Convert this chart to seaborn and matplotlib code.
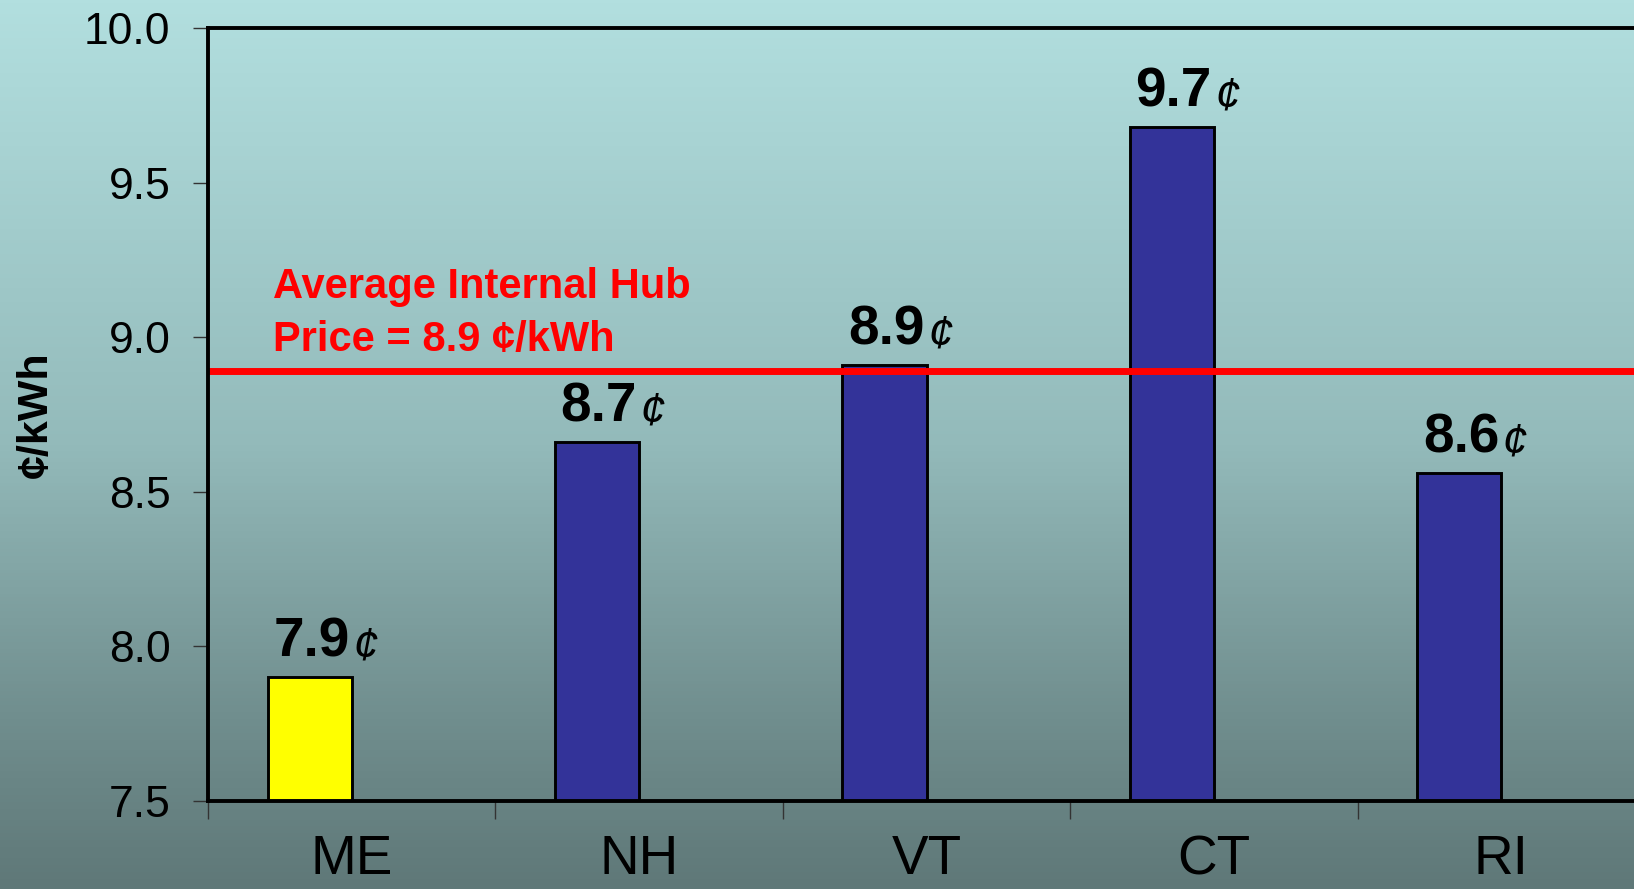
import numpy as np
import pandas as pd
import matplotlib
matplotlib.use("Agg")
import matplotlib.pyplot as plt
from matplotlib.colors import LinearSegmentedColormap
import seaborn as sns

# Data
states = ["ME", "NH", "VT", "CT", "RI"]
zone_price = [7.90, 8.66, 8.91, 9.68, 8.56]          # cents per kWh
bar_colors = ["#FFFF00", "#333399", "#333399", "#333399", "#333399"]
hub_price = 8.89
hub_text = "Average Internal Hub\nPrice = 8.9 \u00a2/kWh"
y_ticks = [7.5, 8.0, 8.5, 9.0, 9.5, 10.0]
series_levels = ["Zone", "Hub"]

sns.set_theme(style="white")
plt.rcParams["font.family"] = ["Liberation Sans", "DejaVu Sans"]

df = pd.DataFrame({"state": states, "price": zone_price, "series": series_levels[0]})

W, H, DPI = 1634, 889, 100
fig = plt.figure(figsize=(W / DPI, H / DPI), dpi=DPI)
fig.patch.set_facecolor("#5F7878")

# Vertical background gradient
bg = fig.add_axes([0, 0, 1, 1], zorder=-10)
cmap = LinearSegmentedColormap.from_list(
    "bg", [(0.0, "#5F7878"), (0.2, "#718F8F"), (0.5, "#93BABA"), (1.0, "#B2DFDF")])
bg.imshow(np.linspace(0, 1, 256).reshape(-1, 1), aspect="auto", cmap=cmap,
          origin="lower", extent=[0, 1, 0, 1])
bg.set_axis_off()

left, bottom_px, top_px, right_px = 208, 801, 28, 1645
ax = fig.add_axes([left / W, (H - bottom_px) / H, (right_px - left) / W,
                   (bottom_px - top_px) / H])
ax.set_facecolor("none")

sns.barplot(data=df, x="state", y="price", hue="series", hue_order=series_levels,
            dodge=True, width=0.585, palette={"Zone": "#333399", "Hub": "#333399"},
            edgecolor="black", linewidth=2.1, saturation=1, legend=False, ax=ax)

bars = [p for p in ax.patches]
for patch, color in zip(bars, bar_colors):
    patch.set_facecolor(color)
    patch.set_zorder(2)

# Hub price reference line
ax.axhline(hub_price, color="#FF0000", lw=5, zorder=3)
ax.annotate(hub_text, xy=(0.045, hub_price), xycoords=("axes fraction", "data"),
            xytext=(0, 8), textcoords="offset points", ha="left", va="bottom",
            color="#FF0000", fontsize=30, fontweight="bold", linespacing=1.42,
            multialignment="left")

# Value labels
for patch, price in zip(bars, zone_price):
    num = ax.annotate(f"{price:.1f}", xy=(patch.get_x(), price), xytext=(4, 15),
                      textcoords="offset points", ha="left", va="baseline",
                      fontsize=39.5, fontweight="bold", color="black", zorder=4)
    ax.annotate("\u00a2", xy=(1, 0), xycoords=num, xytext=(2, -1),
                textcoords="offset points", ha="left", va="bottom",
                fontsize=33, style="italic", color="black", zorder=4)

# Axes
ax.set_ylim(y_ticks[0], y_ticks[-1])
ax.set_yticks(y_ticks)
ax.set_yticklabels([f"{t:.1f}" for t in y_ticks])
ax.set_xlim(-0.5, len(states) - 0.5)
ax.set_xticks(np.arange(len(states) + 1) - 0.5)
ax.set_xticklabels([])
ax.set_xticks(np.arange(len(states)), minor=True)
ax.set_xticklabels(states, minor=True)
ax.set_xlabel("")
ax.set_ylabel("\u00a2/kWh", fontsize=31, fontweight="bold", labelpad=20, color="black")

ax.tick_params(axis="y", which="major", direction="out", length=11, width=1.0,
               color="#333333", labelsize=32, pad=16, left=True, labelcolor="black")
ax.tick_params(axis="x", which="major", direction="out", length=13, width=1.0,
               color="#333333", bottom=True)
ax.tick_params(axis="x", which="minor", length=0, labelsize=39.5, pad=24,
               labelcolor="black")

for side in ["left", "top", "bottom", "right"]:
    ax.spines[side].set_visible(True)
    ax.spines[side].set_color("black")
    ax.spines[side].set_linewidth(2.8)
    ax.spines[side].set_zorder(5)

fig.savefig("out.png", dpi=DPI)
